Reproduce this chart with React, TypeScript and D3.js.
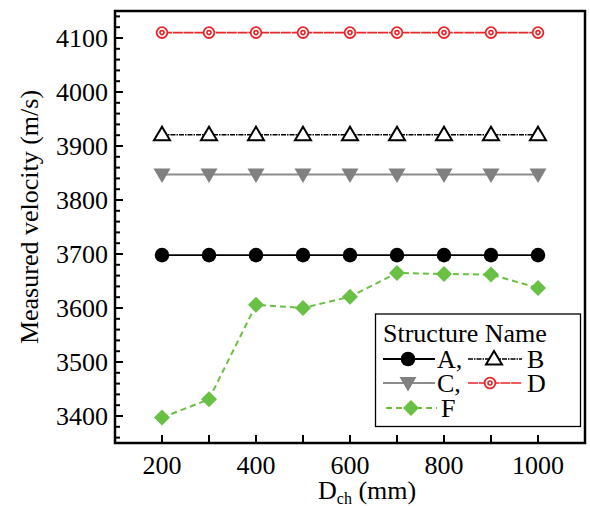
import React from "react";
import * as d3 from "d3";

const xValues = [200, 300, 400, 500, 600, 700, 800, 900, 1000];
const seriesA = [3698, 3698, 3698, 3698, 3698, 3698, 3698, 3698, 3698];
const seriesB = [3921, 3921, 3921, 3921, 3921, 3921, 3921, 3921, 3921];
const seriesC = [3847, 3847, 3847, 3847, 3847, 3847, 3847, 3847, 3847];
const seriesD = [4110, 4110, 4110, 4110, 4110, 4110, 4110, 4110, 4110];
const seriesF = [3397, 3431, 3606, 3600, 3621, 3665, 3663, 3662, 3637];
const xTickLabels = [200, 400, 600, 800, 1000];
const yTickLabels = [3400, 3500, 3600, 3700, 3800, 3900, 4000, 4100];

const W = 590, H = 506;
const L = 115, R = 585, T = 11, B = 443;
const FONT = "Liberation Serif, DejaVu Serif, serif";
const FS = 26;

function Marker({ type, x, y }: { type: string; x: number; y: number }) {
  if (type === "A") return <circle cx={x} cy={y} r={7.3} fill="#000" />;
  if (type === "B")
    return (
      <path
        d={`M${x},${y - 8} L${x + 8},${y + 5.5} L${x - 8},${y + 5.5} Z`}
        fill="#fff"
        stroke="#000"
        strokeWidth={2}
        strokeLinejoin="miter"
      />
    );
  if (type === "C")
    return <path d={`M${x - 8.5},${y - 6} L${x + 8.5},${y - 6} L${x},${y + 8.5} Z`} fill="#808080" />;
  if (type === "D")
    return (
      <g>
        <circle cx={x} cy={y} r={5.4} fill="#fff" stroke="#e8262a" strokeWidth={1.8} />
        <circle cx={x} cy={y} r={2} fill="#fff" stroke="#e8262a" strokeWidth={1.6} />
      </g>
    );
  return <path d={`M${x},${y - 8} L${x + 8},${y} L${x},${y + 8} L${x - 8},${y} Z`} fill="#6abf45" />;
}

const styles: Record<string, { stroke: string; width: number; dash?: string }> = {
  A: { stroke: "#000", width: 1.8 },
  B: { stroke: "#000", width: 1.5, dash: "5,1,1.5,1" },
  C: { stroke: "#8c8c8c", width: 2 },
  D: { stroke: "#e8262a", width: 1.6, dash: "10,0.8" },
  F: { stroke: "#6abf45", width: 2, dash: "6,4" },
};

export default function App() {
  const x = d3.scaleLinear().domain([100, 1100]).range([L, R]);
  const y = d3.scaleLinear().domain([3350, 4150]).range([B, T]);
  const series: [string, number[]][] = [
    ["A", seriesA],
    ["B", seriesB],
    ["C", seriesC],
    ["D", seriesD],
    ["F", seriesF],
  ];
  const line = d3
    .line<number>()
    .x((_, i) => x(xValues[i]))
    .y((v) => y(v));
  const xMinor = d3.range(100, 1101, 100).filter((v) => v > 100 && v < 1100);
  const yMinor = d3.range(3360, 4150, 20);

  const legendRows = [
    { y: 359, items: [{ k: "A", lx0: 383, lx1: 435, mx: 408, tx: 437, label: "A," }, { k: "B", lx0: 468, lx1: 522, mx: 494, tx: 527, label: "B" }] },
    { y: 383, items: [{ k: "C", lx0: 383, lx1: 435, mx: 408, tx: 437, label: "C," }, { k: "D", lx0: 468, lx1: 522, mx: 490, tx: 527, label: "D" }] },
    { y: 408, items: [{ k: "F", lx0: 386, lx1: 437, mx: 411, tx: 441, label: "F" }] },
  ];

  return (
    <svg width={W} height={H} style={{ position: "absolute", left: 0, top: 0, fontFamily: FONT }}>
      <rect width={W} height={H} fill="#fff" />
      {xMinor.map((v) => (
        <line key={"xt" + v} x1={x(v)} x2={x(v)} y1={B} y2={B - 8} stroke="#000" strokeWidth={2} />
      ))}
      {yMinor.map((v) => {
        const major = v % 100 === 0;
        return (
          <line key={"yt" + v} x1={L} x2={L + (major ? 8 : 5)} y1={y(v)} y2={y(v)} stroke="#000" strokeWidth={2} />
        );
      })}
      {xTickLabels.map((v) => (
        <text key={"xl" + v} x={x(v)} y={474} fontSize={FS} textAnchor="middle" fill="#000">
          {v}
        </text>
      ))}
      {yTickLabels.map((v) => (
        <text key={"yl" + v} x={108} y={y(v) + 8.8} fontSize={FS} textAnchor="end" fill="#000">
          {v}
        </text>
      ))}
      {series.map(([k, vals]) => (
        <g key={k}>
          <path
            d={line(vals) || ""}
            fill="none"
            stroke={styles[k].stroke}
            strokeWidth={styles[k].width}
            strokeDasharray={styles[k].dash}
          />
          {vals.map((v, i) => (
            <Marker key={i} type={k} x={x(xValues[i])} y={y(v)} />
          ))}
        </g>
      ))}
      <rect x={L} y={T} width={R - L} height={B - T} fill="none" stroke="#000" strokeWidth={2.5} />
      <rect x={375.5} y={314} width={205} height={112.5} fill="#fff" stroke="#000" strokeWidth={1.3} />
      <text x={383} y={342} fontSize={FS} fill="#000">Structure Name</text>
      {legendRows.map((row, ri) =>
        row.items.map((it) => (
          <g key={ri + it.k}>
            <line
              x1={it.lx0}
              x2={it.lx1}
              y1={row.y}
              y2={row.y}
              stroke={styles[it.k].stroke}
              strokeWidth={styles[it.k].width}
              strokeDasharray={styles[it.k].dash}
            />
            <Marker type={it.k} x={it.mx} y={row.y} />
            <text x={it.tx} y={row.y + 9} fontSize={FS} fill="#000">
              {it.label}
            </text>
          </g>
        ))
      )}
      <text x={318} y={499} fontSize={FS} fill="#000">
        D<tspan fontSize={16} dy={5}>ch</tspan>
        <tspan dy={-5}> (mm)</tspan>
      </text>
      <text transform={`translate(38,217) rotate(-90)`} fontSize={FS} textAnchor="middle" fill="#000">
        Measured velocity (m/s)
      </text>
    </svg>
  );
}
